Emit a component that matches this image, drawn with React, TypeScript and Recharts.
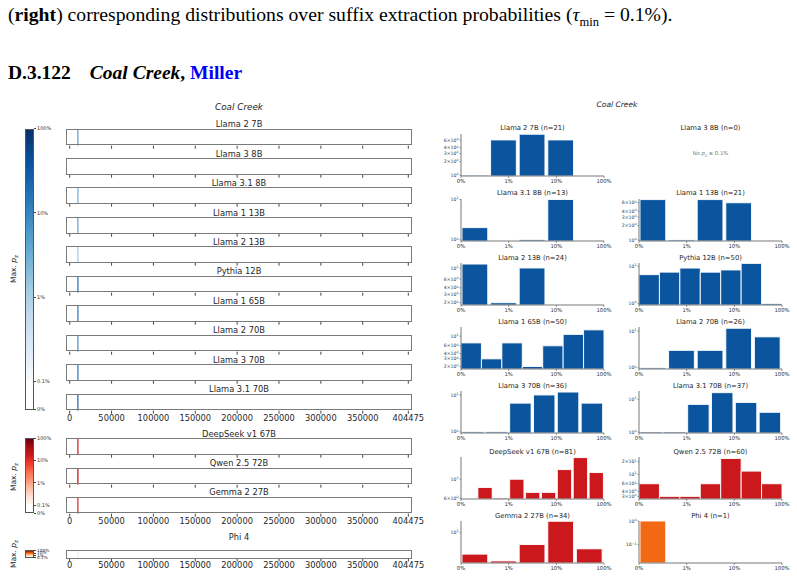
import React from "react";
import { BarChart, Bar, XAxis, YAxis } from "recharts";

// ---------------- DATA ----------------
const blueModels = ["Llama 2 7B", "Llama 3 8B", "Llama 3.1 8B", "Llama 1 13B", "Llama 2 13B", "Pythia 12B", "Llama 1 65B", "Llama 2 70B", "Llama 3 70B", "Llama 3.1 70B"];
const redModels = ["DeepSeek v1 67B", "Qwen 2.5 72B", "Gemma 2 27B"];
const orangeModels = ["Phi 4"];

// suffix index where extraction happens (null = none)
const blueSuffixIdx: (number | null)[] = [10200, null, 10200, 10200, 10200, 10200, 10200, 10200, 10200, 10200];
const redSuffixIdx: (number | null)[] = [10200, 10200, 10200];
const orangeSuffixIdx: (number | null)[] = [10200];

const suffixTicks = [0, 50000, 100000, 150000, 200000, 250000, 300000, 350000, 404475];
const pctTicks = [0.1, 1, 10, 100];

// histogram counts per log-spaced bin (0.1% .. 100%)
const llama2_7bCounts = [1, 6, 8, 6, 0];
const llama3_8bCounts: number[] = [];
const llama31_8bCounts = [2, 0, 1, 10, 0];
const llama1_13bCounts = [7, 1, 7, 6, 0];
const llama2_13bCounts = [12, 2, 10, 0, 0];
const pythia12bCounts = [6, 7, 9, 7, 8, 12, 1];
const llama1_65bCounts = [7, 3, 7, 2, 6, 11, 14];
const llama2_70bCounts = [1, 3, 3, 12, 7];
const llama3_70bCounts = [1, 1, 6, 10, 12, 6];
const llama31_70bCounts = [1, 1, 7, 16, 8, 4];
const deepseekCounts = [0, 8, 6, 10, 7, 7, 13, 18, 12];
const qwenCounts = [6, 3, 3, 6, 24, 12, 6];
const gemmaCounts = [4, 3, 6, 16, 5];
const phi4Counts = [1, 0, 0, 0, 0];

const nValues = [21, 0, 13, 21, 24, 50, 50, 26, 36, 37, 81, 60, 34, 1];

// ---------------- STYLE ----------------
const FONT = "'DejaVu Sans', sans-serif";
const SERIF = "'Liberation Serif', 'Times New Roman', serif";
const BLUE = "#0b559f";
const RED = "#cb181d";
const ORANGE = "#f16913";
const blueLineColors = ["#6aa3d4", "", "#7cb0da", "#6fa5d4", "#a6cbe6", "#3577b8", "#3d7fbf", "#5595cb", "#3a7cbc", "#2d6eb0"];
const redLineColors = ["#d42a22", "#c8161c", "#e0352c"];
const orangeLineColors = ["#fdeedd"];

const BLUES = ["#f7fbff", "#deebf7", "#c6dbef", "#9ecae1", "#6baed6", "#4292c6", "#2171b5", "#08519c", "#08306b"];
const REDS = ["#fff5f0", "#fee0d2", "#fcbba1", "#fc9272", "#fb6a4a", "#ef3b2c", "#cb181d", "#a50f15", "#67000d"];
const ORANGES = ["#fff5eb", "#fee6ce", "#fdd0a2", "#fdae6b", "#fd8d3c", "#f16913", "#d94801", "#a63603", "#7f2704"];

const STRIP_LEFT = 66;
const STRIP_W = 346;
const STRIP_RIGHT_PAD = 24;
const STRIP_DOMAIN: [number, number] = [-4300, 408775];

function Strip(props: { title: string; suffix: number | null; color: string; top: number; boxH: number; showLabels: boolean; titleOffset: number }) {
  const { title, suffix, color, top, boxH, showLabels, titleOffset } = props;
  const axisH = showLabels ? 14 : 4;
  const data = suffix !== null ? [{ x: suffix, hit: 1 }] : [{ x: 0, hit: null }];
  return (
    <>
      <div style={{ position: "absolute", left: STRIP_LEFT, width: STRIP_W, top: top - titleOffset - 6, height: 12, lineHeight: "12px", textAlign: "center", fontSize: 8.3, fontFamily: FONT, color: "#262626", whiteSpace: "nowrap" }}>{title}</div>
      <div style={{ position: "absolute", left: STRIP_LEFT, top }}>
        <BarChart width={STRIP_W + STRIP_RIGHT_PAD} height={boxH + axisH} data={data} margin={{ top: 0, right: STRIP_RIGHT_PAD, bottom: 0, left: 0 }}>
          <XAxis type="number" dataKey="x" domain={STRIP_DOMAIN} ticks={suffixTicks} allowDataOverflow interval={0} height={axisH} axisLine={false} tickSize={3} tickMargin={1} tickLine={{ stroke: "#444" }} tick={{ fontSize: 8.3, fill: "#262626", fontFamily: FONT }} tickFormatter={(v: number) => (showLabels ? String(v) : "")} />
          <YAxis hide type="number" domain={[0, 1]} allowDataOverflow />
          <Bar dataKey="hit" fill={color || "#fff"} barSize={1.3} isAnimationActive={false} />
        </BarChart>
        <div style={{ position: "absolute", left: 0, top: 0, width: STRIP_W, height: boxH, border: "1px solid #7a7a7a", boxSizing: "border-box", pointerEvents: "none" }} />
      </div>
    </>
  );
}

function Colorbar(props: { left: number; top: number; bottom: number; whiteFrac: number; stops: string[]; labels: { text: string; y: number }[]; fontSize: number }) {
  const { left, top, bottom, whiteFrac, stops, labels, fontSize } = props;
  const h = bottom - top;
  const wf = whiteFrac * 100;
  const grad = `linear-gradient(to top, #ffffff 0%, #ffffff ${wf}%, ${stops.map((c, i) => `${c} ${wf + ((100 - wf) * i) / (stops.length - 1)}%`).join(", ")})`;
  return (
    <>
      <div style={{ position: "absolute", left, top, width: 9, height: h, background: grad, border: "0.8px solid #555", boxSizing: "border-box" }} />
      {labels.map((l) => (
        <React.Fragment key={l.text}>
          <div style={{ position: "absolute", left: left + 9, top: l.y - 0.4, width: 2, height: 0.8, background: "#444" }} />
          <div style={{ position: "absolute", left: left + 12, top: l.y - fontSize * 0.65, fontSize, lineHeight: `${fontSize * 1.3}px`, fontFamily: FONT, color: "#333", whiteSpace: "nowrap" }}>{l.text}</div>
        </React.Fragment>
      ))}
    </>
  );
}

function cbLabels(top: number, bottom: number, whiteFrac: number, withZero: boolean) {
  const h = bottom - top;
  const y01 = bottom - whiteFrac * h;
  const dec = (y01 - top) / 3;
  const arr = [
    { text: "100%", y: top },
    { text: "10%", y: top + dec },
    { text: "1%", y: top + 2 * dec },
    { text: "0.1%", y: y01 },
  ];
  if (withZero) arr.push({ text: "0%", y: bottom });
  return arr;
}

function VLabel(props: { x: number; y: number }) {
  return (
    <div style={{ position: "absolute", left: props.x, top: props.y, transform: "translate(-50%, -50%) rotate(-90deg)", fontSize: 7.5, fontFamily: FONT, color: "#262626", whiteSpace: "nowrap" }}>
      Max. <i>p</i><sub style={{ fontSize: 5.5 }}>z</sub>
    </div>
  );
}

function LogTick(props: any) {
  const { x, y, payload } = props;
  const v = payload.value as number;
  const e = Math.floor(Math.log10(v) + 1e-9);
  const m = Math.round(v / Math.pow(10, e));
  const expText = e < 0 ? "\u2212" + Math.abs(e) : String(e);
  return (
    <text x={x} y={y} textAnchor="end" fontSize={4.6} fill="#333" fontFamily={FONT} dy={1.6}>
      {m === 1 ? "10" : `${m}\u00d710`}
      <tspan dy={-1.8} fontSize={3.3}>{expText}</tspan>
    </text>
  );
}

const PLOT_W = 143;
const PLOT_H = 42;
const Y_W = 24;
const X_H = 11;
const TOP_PAD = 5;
const PCT_LO = 0.1;
const PCT_HI = 100;

function Hist(props: { title: string; counts: number[]; domain: [number, number]; yTicks: number[]; color: string; left: number; bottom: number }) {
  const { title, counts, domain, yTicks, color, left, bottom } = props;
  const n = counts.length;
  const decades = Math.log10(PCT_HI / PCT_LO);
  // bins are equal-width in log space between 0.1% and 100%; place each bar at its bin's geometric centre
  const data = counts.map((c, i) => ({ center: PCT_LO * Math.pow(10, ((i + 0.5) * decades) / n), count: c > 0 ? c : null }));
  return (
    <>
      <div style={{ position: "absolute", left, width: PLOT_W, top: bottom - 47.5 - 5, height: 10, lineHeight: "10px", textAlign: "center", fontSize: 6.8, fontFamily: FONT, color: "#262626", whiteSpace: "nowrap" }}>{title}</div>
      {n > 0 ? (
        <div style={{ position: "absolute", left: left - Y_W, top: bottom - PLOT_H - TOP_PAD }}>
          <BarChart width={Y_W + PLOT_W + 8} height={TOP_PAD + PLOT_H + X_H} data={data} margin={{ top: TOP_PAD, right: 8, bottom: 0, left: 0 }} barCategoryGap={0} barGap={0}>
            <XAxis type="number" dataKey="center" scale="log" domain={[PCT_LO, PCT_HI]} ticks={pctTicks} allowDataOverflow interval={0} height={X_H} axisLine={{ stroke: "#555", strokeWidth: 0.8 }} tickLine={{ stroke: "#555", strokeWidth: 0.6 }} tickSize={2} tickMargin={1} tick={{ fontSize: 5.3, fill: "#333", fontFamily: FONT }} tickFormatter={(v: number) => (v <= 0.1 ? "0%" : `${v}%`)} />
            <YAxis type="number" scale="log" domain={domain} allowDataOverflow ticks={yTicks} interval={0} width={Y_W} axisLine={{ stroke: "#555", strokeWidth: 0.8 }} tickLine={{ stroke: "#555", strokeWidth: 0.6 }} tickSize={1.5} tickMargin={1} tick={<LogTick />} />
            <Bar dataKey="count" fill={color} stroke="#ffffff" strokeWidth={0.9} barSize={PLOT_W / n} isAnimationActive={false} />
          </BarChart>
        </div>
      ) : (
        <div style={{ position: "absolute", left, width: PLOT_W, top: bottom - 26, textAlign: "center", fontSize: 5.3, fontFamily: FONT, color: "#777", whiteSpace: "nowrap" }}>
          No <i>p</i><sub style={{ fontSize: 4 }}>z</sub> ≥ 0.1%
        </div>
      )}
    </>
  );
}

const histPanels = [
  { name: "Llama 2 7B", counts: llama2_7bCounts, domain: [0.96, 8.1] as [number, number], ticks: [1, 2, 3, 4, 6], color: BLUE },
  { name: "Llama 3 8B", counts: llama3_8bCounts, domain: [1, 10] as [number, number], ticks: [1, 10], color: BLUE },
  { name: "Llama 3.1 8B", counts: llama31_8bCounts, domain: [0.93, 10.3] as [number, number], ticks: [1, 10], color: BLUE },
  { name: "Llama 1 13B", counts: llama1_13bCounts, domain: [0.95, 7.2] as [number, number], ticks: [1, 2, 3, 4, 6], color: BLUE },
  { name: "Llama 2 13B", counts: llama2_13bCounts, domain: [1.8, 12.6] as [number, number], ticks: [2, 3, 4, 6, 10], color: BLUE },
  { name: "Pythia 12B", counts: pythia12bCounts, domain: [0.92, 12.3] as [number, number], ticks: [1, 10], color: BLUE },
  { name: "Llama 1 65B", counts: llama1_65bCounts, domain: [1.75, 16.3] as [number, number], ticks: [2, 3, 4, 6, 10], color: BLUE },
  { name: "Llama 2 70B", counts: llama2_70bCounts, domain: [0.93, 13] as [number, number], ticks: [1, 10], color: BLUE },
  { name: "Llama 3 70B", counts: llama3_70bCounts, domain: [0.93, 12.8] as [number, number], ticks: [1, 10], color: BLUE },
  { name: "Llama 3.1 70B", counts: llama31_70bCounts, domain: [0.93, 18] as [number, number], ticks: [1, 10], color: BLUE },
  { name: "DeepSeek v1 67B", counts: deepseekCounts, domain: [5.85, 18.3] as [number, number], ticks: [6, 10], color: RED },
  { name: "Qwen 2.5 72B", counts: qwenCounts, domain: [2.6, 26] as [number, number], ticks: [3, 4, 6, 10, 20], color: RED },
  { name: "Gemma 2 27B", counts: gemmaCounts, domain: [2.75, 16.2] as [number, number], ticks: [10], color: RED },
  { name: "Phi 4", counts: phi4Counts, domain: [0.017, 1.0] as [number, number], ticks: [0.1, 1], color: ORANGE },
];

const HIST_COL_LEFTS = [461, 639];
const HIST_ROW_BOTTOMS = [175.7, 240.7, 305, 369.3, 433.3, 499, 563.3];

export default function App() {
  const blueTop = 128.5, blueStep = 29.45;
  const redTop = 438.3, redStep = 29.2;
  return (
    <div style={{ position: "absolute", left: 0, top: 0, width: 797, height: 579, background: "#fff", overflow: "hidden" }}>
      {/* header */}
      <div style={{ position: "absolute", left: 8, top: 2, fontFamily: SERIF, fontSize: 19.7, lineHeight: "24px", color: "#000", whiteSpace: "nowrap" }}>
        (<b>right</b>) corresponding distributions over suffix extraction probabilities (<i>τ</i><sub style={{ fontSize: 12.5 }}>min</sub> = 0.1%).
      </div>
      <div style={{ position: "absolute", left: 8, top: 61, fontFamily: SERIF, fontSize: 19.5, lineHeight: "24px", fontWeight: "bold", color: "#000", whiteSpace: "nowrap" }}>
        D.3.122<span style={{ display: "inline-block", width: 19 }} /><i>Coal Creek</i>, <span style={{ color: "#0000ff" }}>Miller</span>
      </div>

      {/* left panel */}
      <div style={{ position: "absolute", left: STRIP_LEFT, width: STRIP_W, top: 102, textAlign: "center", fontSize: 8.8, fontStyle: "italic", fontFamily: FONT, color: "#262626" }}>Coal Creek</div>

      <Colorbar left={25} top={128.5} bottom={409.5} whiteFrac={0.1} stops={BLUES} labels={cbLabels(128.5, 409.5, 0.1, true)} fontSize={5} />
      <Colorbar left={25} top={438.3} bottom={513.3} whiteFrac={0.11} stops={REDS} labels={cbLabels(438.3, 513.3, 0.11, true)} fontSize={5} />
      <Colorbar left={25} top={550} bottom={558} whiteFrac={0.05} stops={ORANGES} labels={cbLabels(550.8, 558, 0.05, false)} fontSize={4.3} />
      <VLabel x={14} y={269} />
      <VLabel x={14} y={477} />
      <VLabel x={14} y={554} />

      {blueModels.map((m, i) => (
        <Strip key={m} title={m} suffix={blueSuffixIdx[i]} color={blueLineColors[i]} top={blueTop + i * blueStep} boxH={16.7} showLabels={i === blueModels.length - 1} titleOffset={4.3} />
      ))}
      {redModels.map((m, i) => (
        <Strip key={m} title={m} suffix={redSuffixIdx[i]} color={redLineColors[i]} top={redTop + i * redStep} boxH={16.7} showLabels={i === redModels.length - 1} titleOffset={4.3} />
      ))}
      {orangeModels.map((m, i) => (
        <Strip key={m} title={m} suffix={orangeSuffixIdx[i]} color={orangeLineColors[i]} top={550} boxH={8.5} showLabels={true} titleOffset={13} />
      ))}

      {/* right panel */}
      <div style={{ position: "absolute", left: 540, width: 154, top: 100, textAlign: "center", fontSize: 7.5, fontStyle: "italic", fontFamily: FONT, color: "#262626" }}>Coal Creek</div>
      {histPanels.map((p, i) => (
        <Hist key={p.name} title={`${p.name} (n=${nValues[i]})`} counts={p.counts} domain={p.domain} yTicks={p.ticks} color={p.color} left={HIST_COL_LEFTS[i % 2]} bottom={HIST_ROW_BOTTOMS[Math.floor(i / 2)]} />
      ))}
    </div>
  );
}
